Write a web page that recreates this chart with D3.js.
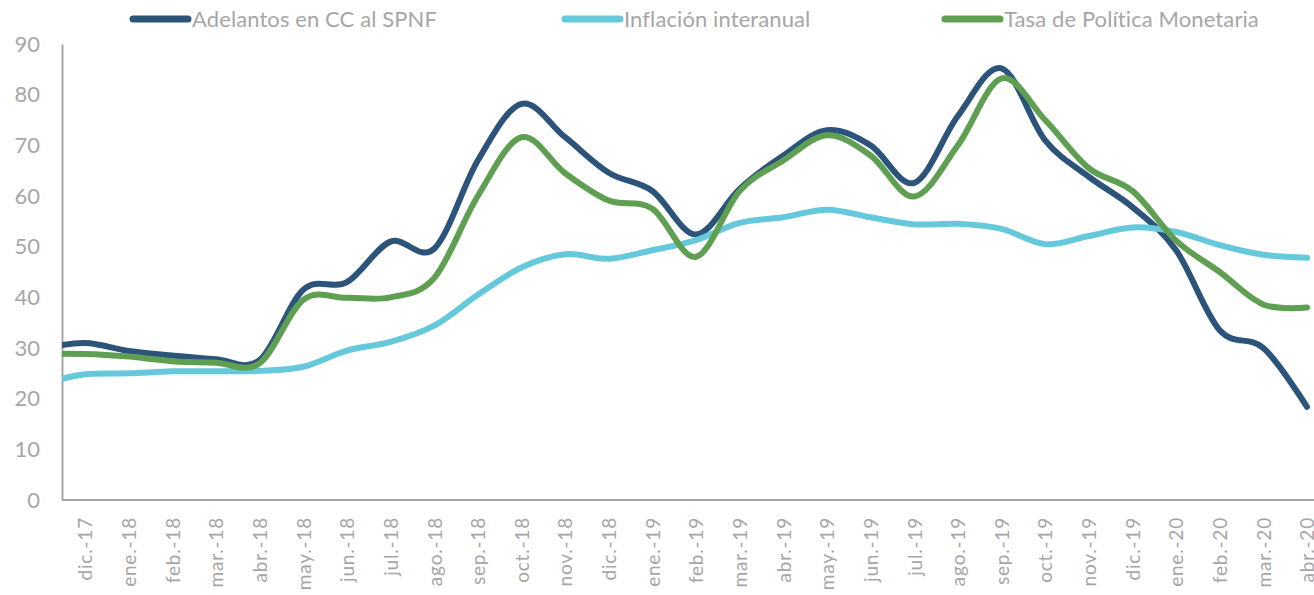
<!DOCTYPE html>
<html>
<head>
<meta charset="utf-8">
<script src="https://cdn.jsdelivr.net/npm/d3@7"></script>
<style>
  html, body { margin: 0; padding: 0; background: #ffffff; }
  svg { display: block; }
  text { font-family: Lato, "Open Sans", sans-serif; fill: #a6a6a6; }
</style>
</head>
<body>
<svg id="chart" width="1314" height="595"></svg>
<script>
// Months (the first one, nov.-17, lies just left of the plot area and is only seen as the line entering the chart)
const categories = ["nov.-17","dic.-17","ene.-18","feb.-18","mar.-18","abr.-18","may.-18","jun.-18","jul.-18","ago.-18",
  "sep.-18","oct.-18","nov.-18","dic.-18","ene.-19","feb.-19","mar.-19","abr.-19","may.-19","jun.-19",
  "jul.-19","ago.-19","sep.-19","oct.-19","nov.-19","dic.-19","ene.-20","feb.-20","mar.-20","abr.-20"];
const tickLabels = categories.slice(1);

const adelantos = [29.8, 31.0, 29.4, 28.5, 27.8, 27.6, 41.5, 43.0, 51.0, 49.6,
  67.0, 78.2, 71.6, 64.6, 61.0, 52.4, 61.4, 68.0, 73.0, 70.0,
  62.6, 75.8, 85.2, 71.0, 63.8, 57.8, 49.3, 33.5, 30.0, 18.4];
const inflacion = [22.9, 24.8, 25.0, 25.4, 25.4, 25.5, 26.3, 29.5, 31.2, 34.4,
  40.5, 45.9, 48.5, 47.6, 49.3, 51.3, 54.7, 55.8, 57.3, 55.8,
  54.4, 54.5, 53.5, 50.5, 52.1, 53.8, 52.9, 50.3, 48.4, 47.8];
const tpm = [28.8, 28.8, 28.3, 27.4, 27.1, 27.0, 39.5, 39.9, 40.0, 43.8,
  60.0, 71.6, 64.5, 59.1, 57.5, 48.0, 61.0, 67.0, 72.0, 68.0,
  59.9, 70.0, 83.2, 75.0, 65.5, 61.0, 51.2, 45.0, 38.6, 38.0];

const seriesNames = ["Adelantos en CC al SPNF", "Inflación interanual", "Tasa de Política Monetaria"];
const seriesColors = ["#2c547b", "#66c8db", "#5f9f52"];
const seriesValues = [adelantos, inflacion, tpm];
const yTicks = [0, 10, 20, 30, 40, 50, 60, 70, 80, 90];

const svg = d3.select("#chart");
const plotLeft = 62, plotRight = 1314, plotTop = 44, plotBottom = 500;

const x = d3.scalePoint().domain(categories).range([41.4, 1307]);
const y = d3.scaleLinear().domain([0, 90]).range([plotBottom, plotTop]);

svg.append("defs").append("clipPath").attr("id", "plotclip")
  .append("rect").attr("x", plotLeft).attr("y", 0)
  .attr("width", plotRight - plotLeft).attr("height", 595);

// Y axis
const yAxis = svg.append("g").attr("transform", `translate(${plotLeft},0)`)
  .call(d3.axisLeft(y).tickValues(yTicks).tickSize(0).tickSizeOuter(0).tickPadding(22));
yAxis.select(".domain").attr("stroke", "#a6a6a6").attr("stroke-width", 2);
yAxis.selectAll("text").style("font-size", "22px").attr("fill", "#a6a6a6").style("font-family", "Lato, sans-serif");

// X axis
const xAxis = svg.append("g").attr("transform", `translate(0,${plotBottom})`)
  .call(d3.axisBottom(x).tickValues(tickLabels).tickSize(0));
xAxis.select(".domain").remove();
xAxis.selectAll("text")
  .attr("transform", "rotate(-90)")
  .attr("text-anchor", "end")
  .attr("x", -17).attr("y", 0).attr("dy", "0.36em")
  .style("font-size", "19px").style("letter-spacing", "0.8px")
  .attr("fill", "#a6a6a6").style("font-family", "Lato, sans-serif");
svg.append("line")
  .attr("x1", plotLeft).attr("x2", plotRight)
  .attr("y1", plotBottom).attr("y2", plotBottom)
  .attr("stroke", "#a6a6a6").attr("stroke-width", 2);

// Lines
const line = d3.line()
  .x((d, i) => x(categories[i]))
  .y(d => y(d))
  .curve(d3.curveCardinal.tension(0));

svg.append("g").attr("clip-path", "url(#plotclip)")
  .selectAll("path").data(seriesValues).join("path")
  .attr("d", d => line(d))
  .attr("fill", "none")
  .attr("stroke", (d, i) => seriesColors[i])
  .attr("stroke-width", 6)
  .attr("stroke-linecap", "round")
  .attr("stroke-linejoin", "round");

// Legend
const legendX = [133, 565, 945];
const legend = svg.append("g").selectAll("g").data(seriesNames).join("g")
  .attr("transform", (d, i) => `translate(${legendX[i]},19)`);
legend.append("line")
  .attr("x1", 0).attr("x2", 55).attr("y1", 0).attr("y2", 0)
  .attr("stroke", (d, i) => seriesColors[i])
  .attr("stroke-width", 7).attr("stroke-linecap", "round");
legend.append("text")
  .attr("x", 59).attr("y", 0).attr("dy", "0.36em")
  .style("font-size", "22px").style("letter-spacing", "0.1px")
  .attr("fill", "#a6a6a6")
  .text(d => d);
</script>
</body>
</html>
